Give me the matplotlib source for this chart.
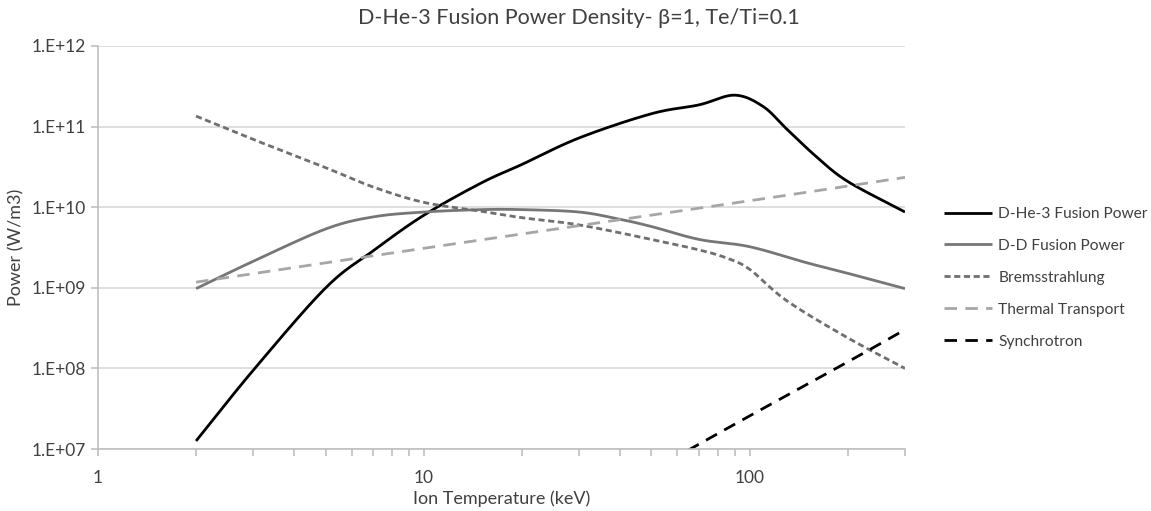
import numpy as np
import matplotlib.pyplot as plt
from matplotlib.ticker import FixedLocator, FuncFormatter, NullFormatter

plt.rcParams['font.family'] = ['Lato', 'DejaVu Sans']

# ion temperature (keV) and power density (W/m3), log10 values
t_dhe3 = [2, 3, 5, 7, 10, 15, 20, 30, 50, 70, 90, 110, 130, 160, 200, 300]
p_dhe3 = [7.10, 7.98, 9.00, 9.46, 9.90, 10.30, 10.53, 10.86, 11.16, 11.27, 11.39, 11.25, 10.97, 10.63, 10.32, 9.94]

t_dd = [2, 3, 5, 7, 10, 15, 20, 30, 40, 50, 70, 100, 150, 200, 300]
p_dd = [8.99, 9.33, 9.73, 9.88, 9.94, 9.97, 9.97, 9.94, 9.85, 9.76, 9.60, 9.51, 9.31, 9.18, 8.99]

t_brems = [2, 3, 5, 7, 10, 15, 20, 30, 50, 70, 85, 100, 130, 200, 300]
p_brems = [11.13, 10.84, 10.49, 10.25, 10.06, 9.95, 9.87, 9.78, 9.60, 9.47, 9.37, 9.23, 8.84, 8.38, 8.00]

t_thermal = [2, 10, 100, 300]
p_thermal = [9.07, 9.49, 10.08, 10.37]

t_sync = [50, 100, 200, 300]
p_sync = [6.73, 7.41, 8.08, 8.48]

labels = ['D-He-3 Fusion Power', 'D-D Fusion Power', 'Bremsstrahlung',
          'Thermal Transport', 'Synchrotron']


def smooth(t, p, n=30):
    # catmull-rom through the points in log-log space (like a smoothed line)
    x = np.log10(np.asarray(t, float))
    y = np.asarray(p, float)
    if len(x) < 3:
        return 10 ** x, 10 ** y
    px = np.concatenate([[2 * x[0] - x[1]], x, [2 * x[-1] - x[-2]]])
    py = np.concatenate([[2 * y[0] - y[1]], y, [2 * y[-1] - y[-2]]])
    xs, ys = [], []
    for i in range(1, len(px) - 2):
        s = np.linspace(0, 1, n, endpoint=(i == len(px) - 3))
        for a, out in ((px, xs), (py, ys)):
            p0, p1, p2, p3 = a[i - 1], a[i], a[i + 1], a[i + 2]
            out.append(0.5 * (2 * p1 + (-p0 + p2) * s
                              + (2 * p0 - 5 * p1 + 4 * p2 - p3) * s ** 2
                              + (-p0 + 3 * p1 - 3 * p2 + p3) * s ** 3))
    return 10 ** np.concatenate(xs), 10 ** np.concatenate(ys)


fig = plt.figure(figsize=(11.51, 5.11), dpi=100)
ax = fig.add_axes([98 / 1151, 1 - 449 / 511, (905 - 98) / 1151, (449 - 46) / 511])

styles = [
    dict(color='black', lw=2.0, ls='-'),
    dict(color='#767676', lw=2.0, ls='-'),
    dict(color='#6f6f6f', lw=2.0, ls=(0, (2.2, 1.3))),
    dict(color='#a6a6a6', lw=2.0, ls=(0, (4.5, 3.0))),
    dict(color='black', lw=2.0, ls=(0, (4.5, 3.0))),
]
series = [(t_dhe3, p_dhe3), (t_dd, p_dd), (t_brems, p_brems),
          (t_thermal, p_thermal), (t_sync, p_sync)]
for (t, p), st, lab in zip(series, styles, labels):
    xs, ys = smooth(t, p)
    ax.plot(xs, ys, label=lab, solid_capstyle='butt', dash_capstyle='butt', **st)

ax.set_xscale('log')
ax.set_yscale('log')
ax.set_xlim(1, 300)
ax.set_ylim(1e7, 1e12)

ax.xaxis.set_major_locator(FixedLocator([1, 10, 100]))
ax.xaxis.set_minor_locator(FixedLocator([m * d for d in (1, 10, 100) for m in range(2, 10) if m * d <= 300]))
ax.xaxis.set_major_formatter(FuncFormatter(lambda v, pos: f'{v:g}'))
ax.xaxis.set_minor_formatter(NullFormatter())
ax.yaxis.set_major_locator(FixedLocator([10.0 ** k for k in range(7, 13)]))
ax.yaxis.set_minor_locator(FixedLocator([]))
ax.yaxis.set_major_formatter(FuncFormatter(lambda v, pos: f'1.E+{int(round(np.log10(v))):02d}'))

ax.grid(axis='y', color='#d9d9d9', lw=1.2)
ax.set_axisbelow(True)
for side in ('top', 'right'):
    ax.spines[side].set_visible(False)
for side in ('left', 'bottom'):
    ax.spines[side].set_color('#bfbfbf')
    ax.spines[side].set_linewidth(1.2)
ax.tick_params(which='both', color='#bfbfbf', width=1.2, length=5, labelsize=12.5,
               labelcolor='#404040')
ax.tick_params(axis='x', pad=10)

fig.suptitle('D-He-3 Fusion Power Density- β=1, Te/Ti=0.1', x=0.503, y=0.985,
             fontsize=15.5, color='#404040')
ax.set_xlabel('Ion Temperature (keV)', fontsize=13, color='#404040', labelpad=3)
ax.set_ylabel('Power (W/m3)', fontsize=13, color='#404040', labelpad=5)

fig.legend(loc='upper left', bbox_to_anchor=(944 / 1151, 1 - 207 / 511), frameon=False,
           fontsize=11.2, labelcolor='#404040', handlelength=3.1, handletextpad=0.4,
           labelspacing=1.15, borderaxespad=0, borderpad=0)

fig.savefig('out.png', dpi=100)
